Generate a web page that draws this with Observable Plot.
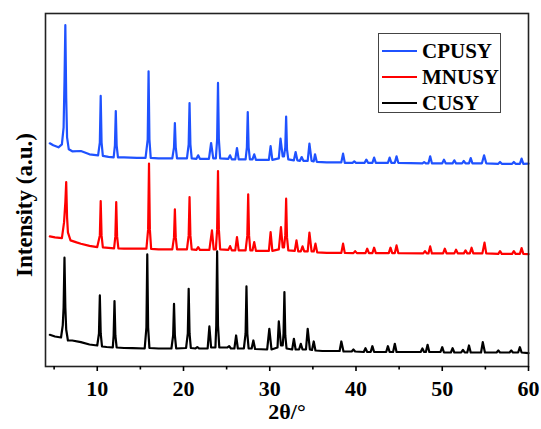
<!DOCTYPE html>
<html>
<head>
<meta charset="utf-8">
<script src="https://cdn.jsdelivr.net/npm/d3@7"></script>
<script src="https://cdn.jsdelivr.net/npm/@observablehq/plot@0.6"></script>
<style>
  html, body { margin: 0; padding: 0; background: #fff; }
  #wrap { position: relative; width: 541px; height: 429px; font-family: "Liberation Serif", "Times New Roman", serif; }
  #legend { position: absolute; left: 378px; top: 33px; width: 123px; height: 80px; box-sizing: border-box; border: 1.2px solid #444; background: #fff; }
  .row { position: absolute; left: 0; height: 24px; }
  .swatch { position: absolute; left: 3px; width: 35px; height: 2px; }
  .lab { position: absolute; left: 43px; font-weight: bold; font-size: 21px; line-height: 24px; white-space: nowrap; color: #000; }
</style>
</head>
<body>
<div id="wrap"></div>
<script>
// Series names, colours and vertical offsets
const seriesNames = ["CPUSY", "MNUSY", "CUSY"];
const seriesColors = ["#1f52ff", "#ff0000", "#000000"];
const seriesOffsets = [190, 100, 0];

// Axis ticks
const majorTicks = [10, 20, 30, 40, 50, 60];
const minorTicks = [5, 15, 25, 35, 45, 55];

// [2θ, intensity]
const cpusy = [
  [4.5,34],[4.9,32],[5.5,30],[5.9,33],[6.1,50],[6.2,95],[6.3,152],[6.4,80],[6.5,40],[6.7,28],[7.1,26],[8.1,26.3],[9.1,23],[10.1,22],
  [10.3,35],[10.4,81.3],[10.5,35],[10.65,21.5],[11.3,20.5],[11.9,20],[12.05,32],[12.15,66.3],[12.25,32],[12.4,20],[13.1,20],[14.6,19.5],[15.6,19.5],
  [15.85,38],[15.95,106],[16.05,38],[16.2,19.5],
  [17.1,19],[18.7,19],[18.9,30],[19.0,54.3],[19.1,30],[19.25,19],[20.4,19],[20.6,33],[20.7,74.3],[20.8,33],[20.95,19],[21.5,18.5],[21.7,22],[21.9,18.5],
  [22.95,18.5],[23.2,34.3],[23.45,19],[23.75,19],[23.9,38],[24.0,94.3],[24.1,38],[24.25,19],[25.2,18.5],[25.4,22],[25.6,18],[26.0,18],[26.2,29.3],[26.4,18],
  [27.2,18],[27.35,30],[27.45,65.3],[27.55,30],[27.7,18],[28.0,18],[28.2,23],[28.4,17.5],[29.9,17.5],[30.1,31.3],[30.3,17.5],
  [31.05,19],[31.25,38.7],[31.5,21],[31.65,21],[31.8,30],[31.9,60.7],[32.0,28],[32.15,18],[32.8,17],[33.0,25.3],[33.2,17],[33.5,16.5],[33.7,20.3],[33.9,16.5],
  [34.4,16.5],[34.6,33.7],[34.85,16.5],[35.1,16],[35.25,23],[35.45,15.5],[36.6,15],[37.6,15],[38.3,15],[38.5,23.7],[38.7,14.5],
  [39.6,14.5],[39.8,16],[40.0,14.5],[41.0,14.5],[41.2,17.7],[41.4,14.5],[41.9,14.5],[42.1,19.7],[42.3,14.5],
  [43.7,14.5],[43.9,19.7],[44.1,14.5],[44.5,14.5],[44.7,21],[44.9,14.5],[47.7,14],[47.9,15.3],[48.1,14],[48.4,14],[48.6,21],[48.8,14],
  [50.0,14],[50.2,17.7],[50.4,14],[51.2,14],[51.4,17],[51.6,14],[52.3,14],[52.5,16.3],[52.7,14],[53.1,14],[53.3,19.3],[53.5,14],
  [54.6,14],[54.85,22],[55.1,14],[56.5,13.5],[56.7,15.3],[56.9,13.5],[58.1,13.5],[58.3,15.3],[58.5,13.5],[59.0,13.5],[59.2,18.7],[59.4,13.5],[60,13.7]
];
const mnusy = [
  [4.5,31],[5.1,30],[5.9,29.3],[6.15,45],[6.3,65],[6.4,85.3],[6.5,50],[6.6,35],[6.9,27],[7.6,25],[8.1,23.7],[9.1,21.5],[10.0,20.3],
  [10.3,32],[10.4,66.3],[10.5,32],[10.65,20],[11.3,19.5],[11.95,19],[12.1,31],[12.2,65.3],[12.3,31],[12.45,19],[13.1,18.7],[14.6,18.7],[15.7,18.7],
  [15.9,38],[16.0,103.7],[16.1,38],[16.25,18.5],
  [17.1,18],[18.7,18],[18.9,30],[19.0,58],[19.1,30],[19.25,18],[20.4,18],[20.6,32],[20.7,70.3],[20.8,32],[20.95,18],[21.5,17.5],[21.7,20.3],[21.9,17.5],
  [23.0,17.5],[23.3,37],[23.5,18],[23.75,18],[23.9,38],[24.0,96.3],[24.1,38],[24.25,18],[25.2,17.5],[25.4,21.3],[25.6,17],[26.0,17],[26.2,30.3],[26.4,17],
  [27.2,17],[27.4,32],[27.5,73],[27.6,32],[27.75,17],[28.0,17],[28.2,25.3],[28.4,16.5],[29.9,16.5],[30.1,35.3],[30.3,16.5],
  [31.05,18],[31.3,40.3],[31.5,20],[31.65,20],[31.8,32],[31.9,68.7],[32.0,30],[32.15,17],[32.9,16.5],[33.1,27],[33.3,16],[33.6,16],[33.8,21],[34.0,16],
  [34.4,16],[34.6,34.7],[34.85,16],[35.1,16],[35.3,23.7],[35.5,15],[36.6,14.5],[37.6,14.5],[38.3,14.5],[38.5,23.7],[38.7,14.5],
  [39.7,14.3],[39.9,16.3],[40.1,14.3],[41.1,14.3],[41.3,18.7],[41.5,14.3],[41.9,14.3],[42.1,19.7],[42.3,14.3],
  [43.8,14.3],[44.0,19.7],[44.2,14.3],[44.5,14.3],[44.7,22],[44.9,14.3],[47.8,14],[48.0,16.3],[48.2,14],[48.4,14],[48.6,21],[48.8,14],
  [50.1,14],[50.3,18.7],[50.5,14],[51.4,14],[51.6,17.7],[51.8,14],[52.5,14],[52.7,17],[52.9,14],[53.2,14],[53.4,19.7],[53.6,14],
  [54.65,14],[54.9,24.7],[55.1,14],[56.5,13.5],[56.7,16.3],[56.9,13.5],[58.1,13.5],[58.3,16.3],[58.5,13.5],[59.0,13.5],[59.2,19.3],[59.4,13.5],[60,13.3]
];
const cusy = [
  [4.5,32.7],[5.1,31],[5.8,30],[6.0,42],[6.1,60],[6.2,109.7],[6.3,60],[6.4,38],[6.6,27],[7.1,27],[8.1,25.3],[9.1,23],[10.0,22],
  [10.2,34],[10.3,72],[10.4,34],[10.55,21],[11.1,20.5],[11.8,20],[11.9,32],[12.0,66.3],[12.1,32],[12.25,20],[13.1,19.5],[14.1,19.3],[15.5,19],
  [15.7,40],[15.8,113],[15.9,40],[16.05,19.5],
  [17.1,19],[18.6,19],[18.8,32],[18.9,63.7],[19.0,32],[19.15,19],[20.3,19.5],[20.5,34],[20.6,78.7],[20.7,34],[20.85,19.5],[21.4,19],[21.6,20.3],[21.8,19],
  [22.8,19],[23.0,41],[23.2,20],[23.7,20],[23.8,42],[23.9,116],[24.0,42],[24.15,20],[25.1,20],[25.3,21.3],[25.5,19],[25.9,19],[26.1,32],[26.3,19],
  [27.0,19],[27.2,34],[27.3,81],[27.4,34],[27.55,19],[27.9,19],[28.1,27],[28.3,18.5],[29.7,18],[29.95,38.7],[30.2,18],
  [30.9,20],[31.05,46],[31.3,22],[31.5,22],[31.6,34],[31.7,75.3],[31.8,32],[31.95,19],[32.6,18],[32.8,28.7],[33.0,18],[33.4,18],[33.6,23.7],[33.8,18],
  [34.2,18],[34.4,38.7],[34.65,18],[34.9,17.5],[35.1,26],[35.3,17],[36.1,16.5],[37.1,16.5],[38.1,16.5],[38.3,26],[38.55,16],
  [39.5,16],[39.7,18],[39.9,16],[40.9,15.5],[41.1,19.3],[41.3,15.5],[41.7,15.5],[41.9,21.3],[42.1,15.5],
  [43.5,15.5],[43.7,21.3],[43.9,15.5],[44.3,15.5],[44.5,23.7],[44.7,15.5],[47.5,15.5],[47.7,19],[47.9,15.5],[48.1,15.5],[48.3,22.7],[48.5,15.5],
  [49.8,15.5],[50.0,20.3],[50.2,15],[51.0,15],[51.2,19.3],[51.4,15],[52.2,15],[52.4,17.5],[52.6,15],[52.9,15],[53.1,22],[53.3,15],
  [54.5,15],[54.7,25.3],[54.95,15],[56.3,15],[56.5,17],[56.7,15],[57.8,15],[58.0,17],[58.2,15],[58.8,15],[59.0,20.3],[59.2,15],[60,14.3]
];
const seriesData = [cpusy, mnusy, cusy];

const rows = [];
seriesData.forEach((arr, k) => {
  arr.forEach(([t, v]) => rows.push({series: seriesNames[k], theta: t, intensity: v + seriesOffsets[k]}));
});

const chart = Plot.plot({
  width: 541,
  height: 429,
  marginLeft: 45,
  marginRight: 13,
  marginTop: 13,
  marginBottom: 63,
  style: {fontFamily: "'Liberation Serif', 'Times New Roman', serif", fontWeight: "bold", background: "#fff", color: "#000"},
  x: {domain: [4, 60]},
  y: {domain: [1, 353.7], axis: null},
  color: {domain: seriesNames, range: seriesColors},
  marks: [
    Plot.line(rows, {x: "theta", y: "intensity", z: "series", stroke: "series", strokeWidth: 2.2, strokeLinejoin: "round"}),
    Plot.frame({stroke: "#222", strokeWidth: 1.6}),
    Plot.axisX({ticks: majorTicks, tickSize: 5, tickPadding: 9, fontSize: 22, strokeWidth: 1.6, label: null, tickFormat: d => String(d)}),
    Plot.axisX({ticks: minorTicks, tickSize: 3.5, tickFormat: () => "", strokeWidth: 1.6, label: null}),
    Plot.text(["2θ/°"], {frameAnchor: "bottom", text: d => d, dy: 52, fontSize: 22, fontWeight: "bold"}),
    Plot.text(["Intensity (a.u.)"], {frameAnchor: "left", text: d => d, rotate: -90, dx: -21, dy: 15, textAnchor: "middle", fontSize: 23, fontWeight: "bold"})
  ]
});

const wrap = document.getElementById("wrap");
wrap.appendChild(chart);

const legend = document.createElement("div");
legend.id = "legend";
const rowTops = [5, 31, 57];
seriesNames.forEach((name, k) => {
  const r = document.createElement("div");
  r.className = "row";
  r.style.top = rowTops[k] + "px";
  r.style.width = "120px";
  const sw = document.createElement("div");
  sw.className = "swatch";
  sw.style.top = "11px";
  sw.style.background = seriesColors[k];
  const lb = document.createElement("div");
  lb.className = "lab";
  lb.textContent = name;
  r.appendChild(sw);
  r.appendChild(lb);
  legend.appendChild(r);
});
wrap.appendChild(legend);
</script>
</body>
</html>
